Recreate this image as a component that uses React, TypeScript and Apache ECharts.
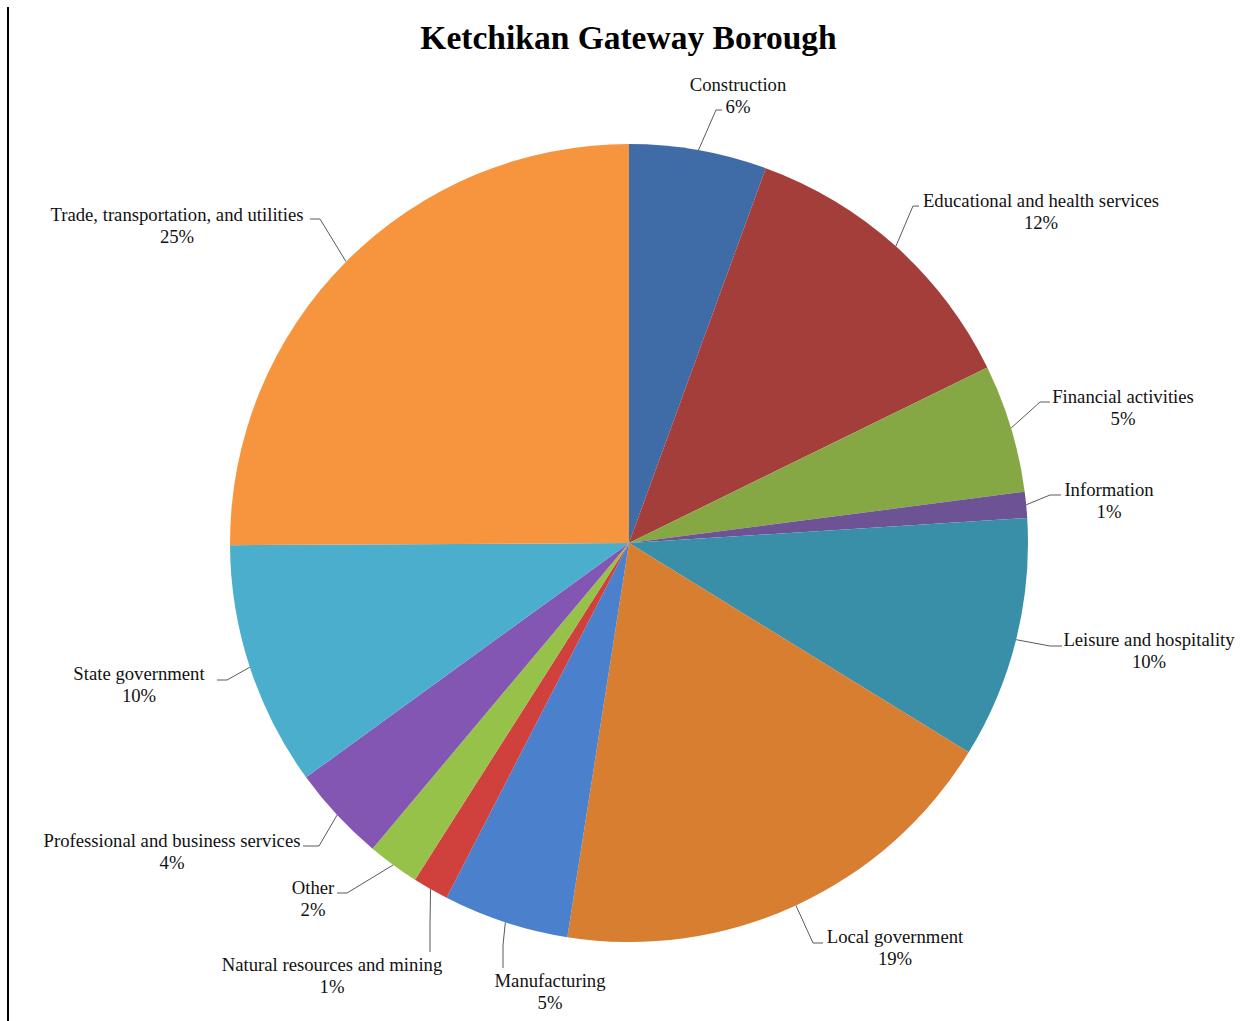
import React, { useEffect, useRef } from 'react';
import * as echarts from 'echarts';

const TITLE = 'Ketchikan Gateway Borough';

const CATEGORIES = [
  'Construction',
  'Educational and health services',
  'Financial activities',
  'Information',
  'Leisure and hospitality',
  'Local government',
  'Manufacturing',
  'Natural resources and mining',
  'Other',
  'Professional and business services',
  'State government',
  'Trade, transportation, and utilities',
];

const VALUES = [5.57, 12.18, 5.2, 1.05, 9.79, 18.68, 5.09, 1.45, 2.1, 3.9, 9.9, 25.09];

const COLORS = [
  '#3F6BA6', '#A33E3B', '#86A844', '#6E5296', '#3A8FA8', '#D77E30',
  '#4B80CC', '#D0413D', '#97C24A', '#8356B3', '#4BAECC', '#F7953F',
];

// label placement: [labelX, labelY, bendX, bendY, endX, endY]
const LABEL_LAYOUT = [
  [738, 95, 716, 110, 722, 110],
  [1041, 211, 913, 206, 919, 206],
  [1123, 407, 1040, 402, 1050, 402],
  [1109, 500, 1050, 495, 1061, 495],
  [1149, 650, 1050, 646, 1062, 646],
  [895, 947, 813, 943, 823, 943],
  [550, 991, 503, 945, 503, 968],
  [332, 975, 430, 925, 430, 952],
  [313, 898, 347, 893, 337, 893],
  [172, 851, 319, 846, 303, 846],
  [139, 684, 227, 680, 217, 680],
  [177, 225, 320, 219, 310, 219],
];

const CX = 629;
const CY = 543;
const R = 399;

export default function App() {
  const ref = useRef<HTMLDivElement>(null);

  useEffect(() => {
    if (!ref.current) return;
    const chart = echarts.init(ref.current, undefined, { renderer: 'svg' });
    const total = VALUES.reduce((a, b) => a + b, 0);

    chart.setOption({
      animation: false,
      backgroundColor: '#ffffff',
      title: {
        text: TITLE,
        left: 'center',
        top: 15,
        textStyle: {
          fontFamily: 'Liberation Serif',
          fontWeight: 'bold',
          fontSize: 33.5,
          color: '#000000',
        },
      },
      graphic: [
        {
          type: 'rect',
          shape: { x: 7, y: 7, width: 2, height: 1014 },
          style: { fill: '#000000' },
          silent: true,
        },
      ],
      series: [
        {
          type: 'pie',
          center: [CX, CY],
          radius: R,
          startAngle: 90,
          clockwise: true,
          avoidLabelOverlap: false,
          data: CATEGORIES.map((name, i) => ({
            name,
            value: VALUES[i],
            itemStyle: { color: COLORS[i] },
          })),
          itemStyle: { borderWidth: 0 },
          emphasis: { disabled: true },
          label: {
            show: true,
            position: 'outside',
            fontFamily: 'Liberation Serif',
            fontSize: 18.7,
            lineHeight: 22,
            color: '#111111',
            formatter: (p: any) => `${p.name}\n${Math.round(p.percent)}%`,
          },
          labelLine: {
            show: true,
            lineStyle: { color: '#5a5a5a', width: 1 },
          },
          labelLayout: (params: any) => {
            const i = params.dataIndex;
            let before = 0;
            for (let j = 0; j < i; j++) before += VALUES[j];
            const mid = ((before + VALUES[i] / 2) / total) * Math.PI * 2;
            const sx = CX + R * Math.sin(mid);
            const sy = CY - R * Math.cos(mid);
            const [lx, ly, bx, by, ex, ey] = LABEL_LAYOUT[i];
            return {
              x: lx,
              y: ly,
              align: 'center',
              verticalAlign: 'middle',
              labelLinePoints: [
                [sx, sy],
                [bx, by],
                [ex, ey],
              ],
            };
          },
        },
      ],
    });

    return () => chart.dispose();
  }, []);

  return (
    <div
      ref={ref}
      style={{
        position: 'fixed',
        left: 0,
        top: 0,
        width: 1257,
        height: 1021,
        background: '#ffffff',
      }}
    />
  );
}
